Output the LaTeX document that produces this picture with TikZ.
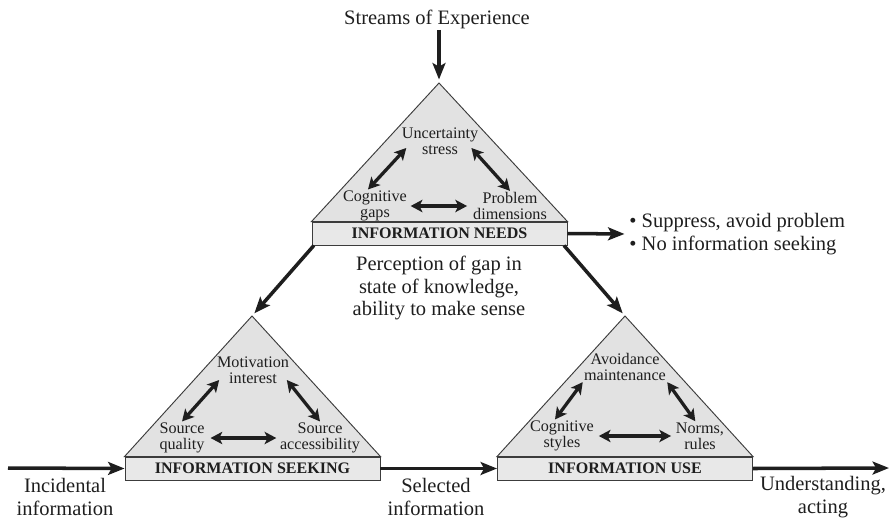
\documentclass[tikz,border=0pt]{standalone}
\usepackage{fontspec}
\setmainfont{Liberation Serif}
\usepackage{xcolor}
\usepackage{tikz}
\usetikzlibrary{arrows.meta}
\definecolor{grigio}{HTML}{E2E2E2}
\definecolor{fasciagrigia}{HTML}{E8E8E8}
\definecolor{bordo}{HTML}{3C3C3C}
\definecolor{inchiostro}{HTML}{1E1E1E}

\begin{document}
\begin{tikzpicture}[x=0.03cm, y=-0.03cm,
    triangolo/.style={draw=bordo, line width=0.8pt, fill=grigio},
    fascia/.style={draw=bordo, line width=0.8pt, fill=fasciagrigia, minimum width=7.65cm,
        minimum height=0.69cm, inner sep=0pt, text=inchiostro,
        font=\fontsize{13.7}{14}\selectfont\bfseries},
    voce/.style={align=center, inner sep=1pt, text=inchiostro,
        font=\fontsize{13.8}{13.7}\selectfont},
    didascalia/.style={align=center, inner sep=1pt, text=inchiostro,
        font=\fontsize{17.5}{19.4}\selectfont},
    freccia/.style={-{Stealth[length=14pt, width=11pt, inset=3pt]}, line width=3pt, color=inchiostro},
    doppia/.style={{Stealth[length=10pt, width=10.5pt, inset=2.5pt]}-{Stealth[length=10pt, width=10.5pt, inset=2.5pt]},
        line width=2.8pt, color=inchiostro}]

    \useasboundingbox (0,0) rectangle (889,520);

    % Bisogni informativi (in alto)
    \coordinate (apiceN) at (439,83);
    \node[fascia] (bisogni) at (439.5,233.5) {INFORMATION NEEDS};
    \draw[triangolo] (bisogni.north west) -- (apiceN) -- (bisogni.north east) -- cycle;
    \node[voce] (incertezza) at (440,141) {Uncertainty\\stress};
    \node[voce] (lacune) at (375,206) {Cognitive\\gaps};
    \node[voce] (dimensioni) at (510,206) {Problem\\dimensions};
    \draw[doppia] ([xshift=-6pt]lacune.north) -- ([xshift=5pt]incertezza.190);
    \draw[doppia] ([xshift=-7pt]incertezza.-10) -- (dimensioni.north);
    \draw[doppia, shorten <=2pt, shorten >=4pt] (lacune.east) -- (dimensioni.west);

    % Flusso di esperienza
    \node[didascalia] (flusso) at (437,19) {Streams of Experience};
    \draw[freccia, shorten >=3pt] (flusso.south -| apiceN) -- (apiceN);

    % Reazione: nessuna ricerca
    \node[didascalia, align=left, anchor=west] (reazione) at (628,234)
        {\textbullet\ Suppress, avoid problem\\\textbullet\ No information seeking};
    \draw[freccia, shorten >=3pt] (bisogni.east) -- (reazione.west);

    % Percezione
    \node[didascalia] (percezione) at (439,288)
        {Perception of gap in\\state of knowledge,\\ability to make sense};

    % Ricerca di informazioni (sinistra)
    \coordinate (apiceS) at (252,316);
    \node[fascia] (ricerca) at (252.5,468.5) {INFORMATION SEEKING};
    \draw[triangolo] (ricerca.north west) -- (apiceS) -- (ricerca.north east) -- cycle;
    \node[voce] (motivazione) at (253,370) {Motivation\\interest};
    \node[voce] (qualita) at (182,438) {Source\\quality};
    \node[voce] (accesso) at (320,438) {Source\\accessibility};
    \draw[doppia] (qualita.north) -- ([xshift=3pt]motivazione.195);
    \draw[doppia] ([xshift=-3pt]motivazione.-15) -- (accesso.north);
    \draw[doppia, shorten <=4pt, shorten >=2pt] (qualita.east) -- (accesso.west);

    % Uso delle informazioni (destra)
    \coordinate (apiceU) at (625,316);
    \node[fascia] (uso) at (625,468.5) {INFORMATION USE};
    \draw[triangolo] (uso.north west) -- (apiceU) -- (uso.north east) -- cycle;
    \node[voce] (evitamento) at (625,367) {Avoidance\\maintenance};
    \node[voce] (stili) at (562,436) {Cognitive\\styles};
    \node[voce] (norme) at (700,436) {Norms,\\rules};
    \draw[doppia] ([xshift=-6pt]stili.north) -- (evitamento.south west);
    \draw[doppia] (evitamento.south east) -- ([xshift=-4pt]norme.north);
    \draw[doppia, shorten <=3pt, shorten >=3pt] (stili.east) -- (norme.west);

    % Frecce diagonali
    \draw[freccia, shorten >=3pt] ([xshift=2pt]bisogni.south west) -- (apiceS);
    \draw[freccia, shorten >=3pt] ([xshift=-3pt]bisogni.south east) -- (apiceU);

    % Riga in basso
    \coordinate (ingresso) at (8,468);
    \coordinate (uscita) at (889,468);
    \draw[freccia] (ingresso) -- (ricerca.west);
    \draw[freccia] (ricerca.east) -- (uso.west);
    \draw[freccia] (uso.east) -- (uscita);
    \node[didascalia] (incidentale) at (65,497) {Incidental\\information};
    \node[didascalia] (selezionata) at (436,497) {Selected\\information};
    \node[didascalia] (comprensione) at (823,497) {Understanding,\\acting};
\end{tikzpicture}
\end{document}
